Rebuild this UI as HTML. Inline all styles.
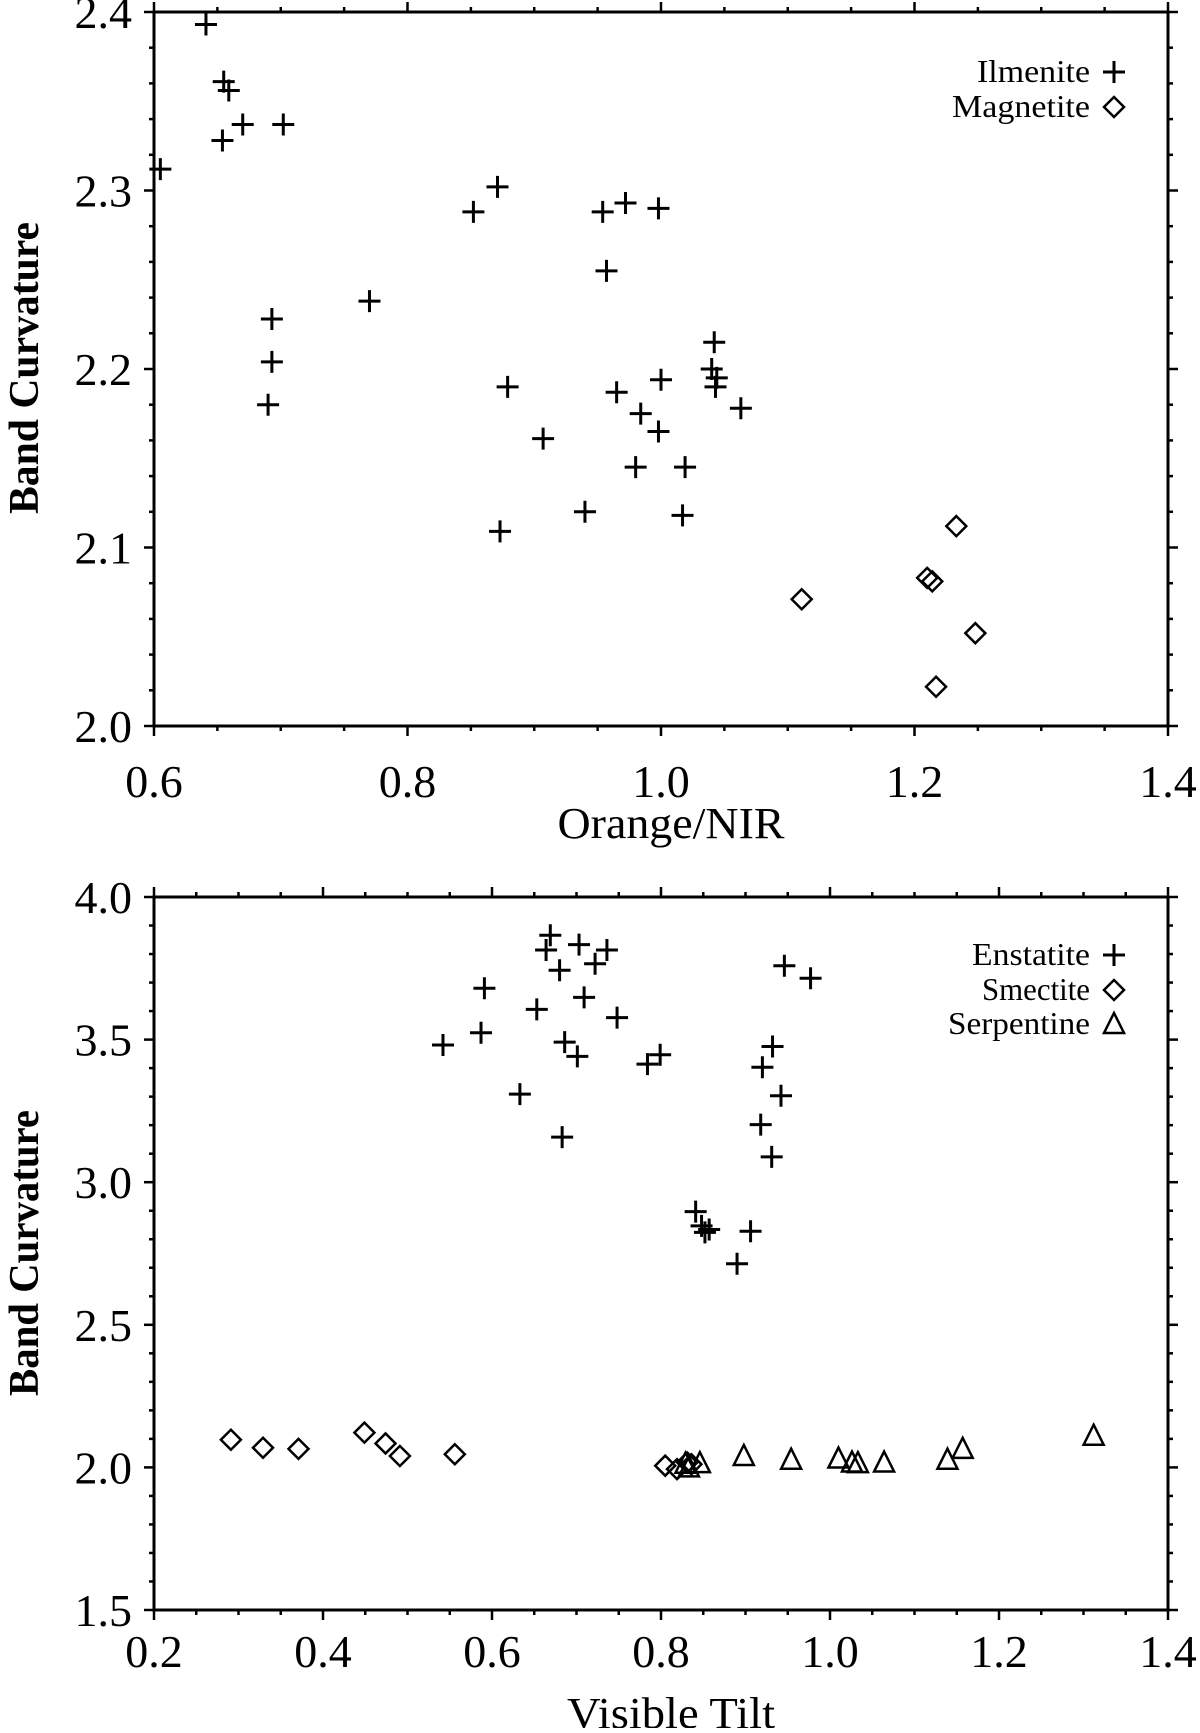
<!DOCTYPE html>
<html><head><meta charset="utf-8"><style>
html,body{margin:0;padding:0;background:#fff}
svg text{font-family:"Liberation Serif",serif;fill:#000}
</style></head><body>
<svg id="chart" width="1200" height="1728" viewBox="0 0 1200 1728" xmlns="http://www.w3.org/2000/svg"></svg>
<script>
// Top panel data
const ilmeniteX=[0.641,0.655,0.659,0.654,0.670,0.702,0.605,0.871,0.852,0.954,0.972,0.998,0.957,0.770,0.693,0.693,0.690,0.879,0.965,1.000,1.042,1.040,1.044,1.043,1.063,0.984,0.998,0.907,0.980,1.019,0.940,1.017,0.873];
const ilmeniteY=[2.393,2.361,2.356,2.328,2.337,2.337,2.312,2.302,2.288,2.288,2.293,2.290,2.255,2.238,2.228,2.204,2.180,2.190,2.187,2.194,2.215,2.200,2.195,2.190,2.178,2.175,2.165,2.161,2.145,2.145,2.120,2.118,2.109];
const magnetiteX=[1.233,1.210,1.214,1.111,1.248,1.217];
const magnetiteY=[2.112,2.083,2.081,2.071,2.052,2.022];
const topXTicks=["0.6","0.8","1.0","1.2","1.4"];
const topYTicks=["2.0","2.1","2.2","2.3","2.4"];
// Bottom panel data
const enstatiteX=[0.669,0.664,0.703,0.736,0.680,0.722,0.591,0.709,0.653,0.748,0.587,0.542,0.686,0.701,0.784,0.799,0.633,0.683,0.946,0.977,0.932,0.920,0.942,0.918,0.931,0.841,0.848,0.857,0.852,0.906,0.890];
const enstatiteY=[3.866,3.814,3.833,3.814,3.743,3.766,3.680,3.648,3.606,3.577,3.524,3.481,3.491,3.441,3.414,3.447,3.309,3.158,3.759,3.715,3.476,3.403,3.303,3.202,3.089,2.897,2.847,2.834,2.824,2.828,2.714];
const smectiteX=[0.291,0.329,0.371,0.449,0.474,0.491,0.556,0.805,0.819,0.831,0.836];
const smectiteY=[2.097,2.069,2.065,2.122,2.084,2.040,2.046,2.006,1.994,2.017,2.011];
const serpentineX=[0.829,0.833,0.846,0.898,0.954,1.010,1.026,1.033,1.064,1.139,1.157,1.312];
const serpentineY=[2.013,2.000,2.015,2.040,2.027,2.031,2.017,2.015,2.017,2.027,2.065,2.111];
const botXTicks=["0.2","0.4","0.6","0.8","1.0","1.2","1.4"];
const botYTicks=["1.5","2.0","2.5","3.0","3.5","4.0"];

const NS="http://www.w3.org/2000/svg";
const svg=document.getElementById('chart');
function mk(tag,attrs,parent){const e=document.createElementNS(NS,tag);for(const k in attrs)e.setAttribute(k,attrs[k]);(parent||svg).appendChild(e);return e;}

function panel(p){
  const g=mk('g',{});
  
  
  const sx=v=>p.L+(v-p.x0)/(p.x1-p.x0)*(p.R-p.L);
  const sy=v=>p.B-(v-p.y0)/(p.y1-p.y0)*(p.B-p.T);
  const fr=mk('rect',{x:p.L,y:p.T,width:p.R-p.L,height:p.B-p.T,fill:'none',stroke:'#000','stroke-width':3},g);
  
  
  const nx=Math.round((p.x1-p.x0)/p.xminor);
  for(let i=0;i<=nx;i++){
    const v=p.x0+i*p.xminor,x=sx(v);
    const major=Math.abs(((v-p.x0)/p.xmajor)-Math.round((v-p.x0)/p.xmajor))<1e-6;
    const len=major?10:5;
    mk('line',{x1:x,y1:p.B,x2:x,y2:p.B+len,stroke:'#000','stroke-width':2.5},g);
    mk('line',{x1:x,y1:p.T,x2:x,y2:p.T-len,stroke:'#000','stroke-width':2.5},g);
  }
  const ny=Math.round((p.y1-p.y0)/p.yminor);
  for(let i=0;i<=ny;i++){
    const v=p.y0+i*p.yminor,y=sy(v);
    const major=Math.abs(((v-p.y0)/p.ymajor)-Math.round((v-p.y0)/p.ymajor))<1e-6;
    const len=major?10:5;
    mk('line',{x1:p.L,y1:y,x2:p.L-len,y2:y,stroke:'#000','stroke-width':2.5},g);
    mk('line',{x1:p.R,y1:y,x2:p.R+len,y2:y,stroke:'#000','stroke-width':2.5},g);
  }
  p.xt.forEach(t=>{const e=mk('text',{x:sx(parseFloat(t)),y:p.xlabY,'font-size':46,'text-anchor':'middle'},g);e.textContent=t;
    
    });
  p.yt.forEach(t=>{const e=mk('text',{x:p.L-22,y:sy(parseFloat(t))+16,'font-size':46,'text-anchor':'end'},g);e.textContent=t;
    
    });
  const xt=mk('text',{x:(p.L+p.R)/2+10,y:p.xtitleY,'font-size':44,'text-anchor':'middle',textLength:p.xtitleW,lengthAdjust:'spacingAndGlyphs'},g);
  xt.textContent=p.xtitle;
  
  
  const yt=mk('text',{x:0,y:0,'font-size':42,'font-weight':'bold','text-anchor':'middle',textLength:p.ytitleW,lengthAdjust:'spacingAndGlyphs',transform:`translate(38,${p.ytitleC}) rotate(-90)`},g);
  yt.textContent='Band Curvature';
  
  
  return {g,sx,sy};
}
function plus(g,x,y){return mk('path',{d:`M${x-11},${y}H${x+11}M${x},${y-11}V${y+11}`,stroke:'#000','stroke-width':3,fill:'none'},g);}
function diamond(g,x,y){return mk('path',{d:`M${x},${y-10}L${x+10},${y}L${x},${y+10}L${x-10},${y}Z`,stroke:'#000','stroke-width':2.5,fill:'none'},g);}
function tri(g,x,y){return mk('path',{d:`M${x},${y-11}L${x+10},${y+9}L${x-10},${y+9}Z`,stroke:'#000','stroke-width':2.5,fill:'none'},g);}
function series(P,xs,ys,fn,name){xs.forEach((v,i)=>{const e=fn(P.g,P.sx(v),P.sy(ys[i]));
  
  });}
function legend(P,label,fn,y,w){const t=mk('text',{x:1090,y:y,'font-size':32,'text-anchor':'end',textLength:w,lengthAdjust:'spacingAndGlyphs'},P.g);t.textContent=label;
  
  
  const m=fn(P.g,1114,y-10);
  
  }

const topPanel=panel({name:'top-panel',L:154,R:1168,T:12,B:726,x0:0.6,x1:1.4,y0:2.0,y1:2.4,xmajor:0.2,xminor:0.05,ymajor:0.1,yminor:0.02,xt:topXTicks,yt:topYTicks,xlabY:797,xtitle:'Orange/NIR',xtitleY:838,xtitleW:227,ytitleC:368,ytitleW:292});
series(topPanel,ilmeniteX,ilmeniteY,plus,'ilmenite-point');
series(topPanel,magnetiteX,magnetiteY,diamond,'magnetite-point');
legend(topPanel,'Ilmenite',plus,82,113);
legend(topPanel,'Magnetite',diamond,117,138);

const botPanel=panel({name:'bottom-panel',L:154,R:1168,T:897,B:1610,x0:0.2,x1:1.4,y0:1.5,y1:4.0,xmajor:0.2,xminor:0.05,ymajor:0.5,yminor:0.1,xt:botXTicks,yt:botYTicks,xlabY:1667,xtitle:'Visible Tilt',xtitleY:1728,xtitleW:208,ytitleC:1253,ytitleW:286});
series(botPanel,enstatiteX,enstatiteY,plus,'enstatite-point');
series(botPanel,smectiteX,smectiteY,diamond,'smectite-point');
series(botPanel,serpentineX,serpentineY,tri,'serpentine-point');
legend(botPanel,'Enstatite',plus,965,118);
legend(botPanel,'Smectite',diamond,1000,108);
legend(botPanel,'Serpentine',tri,1034,142);
</script>
</body></html>
